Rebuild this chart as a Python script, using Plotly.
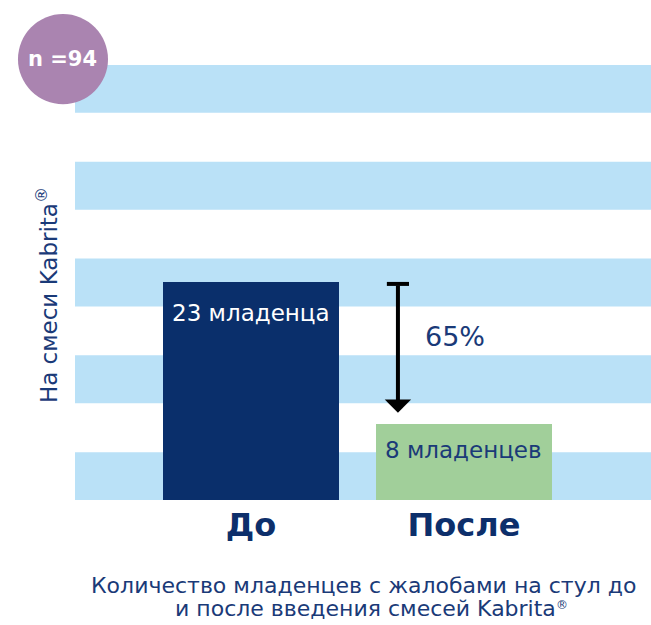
import plotly.graph_objects as go

categories = ["До", "После"]
values = [23, 8]
bar_labels = ["23 младенца", "8 младенцев"]
bar_colors = ["#0a2f6b", "#a1cf9a"]
label_colors = ["#ffffff", "#1a3a78"]
reduction_label = "65%"
n_label = "n =94"
y_title = "На смеси Kabrita<sup>®</sup>"
caption_lines = ["Количество младенцев с жалобами на стул до",
                 "и после введения смесей Kabrita"]
caption_mark = "®"

NAVY = "#1a3a78"
FONT = "DejaVu Sans"
x_pos = list(range(len(categories)))

fig = go.Figure()
fig.add_trace(go.Bar(x=x_pos, y=values, width=0.826,
                     marker=dict(color=bar_colors, line=dict(width=0)),
                     hoverinfo="skip"))

# background stripes
for i in range(5):
    y0 = i * 0.2225
    fig.add_shape(type="rect", xref="paper", yref="y domain",
                  x0=0, x1=1, y0=y0, y1=y0 + 0.11,
                  fillcolor="#bae1f7", line=dict(width=0), layer="below")

# bar labels
shifts = [-31, -26]
for xi, v, t, c, s in zip(x_pos, values, bar_labels, label_colors, shifts):
    fig.add_annotation(x=xi, y=v, text=t, showarrow=False, yshift=s,
                       xanchor="center", yanchor="middle",
                       font=dict(family=FONT, size=23, color=c))

# arrow from before to after
ax_x = 0.69
fig.add_annotation(x=ax_x, y=values[1] + 1.2, ax=ax_x, ay=values[0] - 0.2,
                   xref="x", yref="y", axref="x", ayref="y",
                   showarrow=True, arrowhead=1, arrowwidth=4, arrowsize=1.1,
                   arrowcolor="#000000", text="")
fig.add_shape(type="line", xref="x", yref="y", x0=ax_x - 0.052, x1=ax_x + 0.052,
              y0=values[0] - 0.2, y1=values[0] - 0.2,
              line=dict(color="#000000", width=4))
fig.add_annotation(x=0.958, y=17.3, text=reduction_label, showarrow=False,
                   xanchor="center", yanchor="middle",
                   font=dict(family=FONT, size=27, color=NAVY))

# n circle
fig.add_shape(type="circle", xref="paper", yref="paper",
              x0=-0.099, x1=0.0573, y0=0.910, y1=1.117,
              fillcolor="#aa84b0", line=dict(width=0))
fig.add_annotation(xref="paper", yref="paper", x=(-0.099 + 0.0573) / 2, y=1.0135,
                   text="<b>" + n_label + "</b>", showarrow=False,
                   xanchor="center", yanchor="middle",
                   font=dict(family=FONT, size=21, color="#ffffff"))

# y title
fig.add_annotation(xref="paper", yref="paper", x=-0.0486, y=0.471, textangle=-90,
                   text=y_title, showarrow=False, xanchor="center", yanchor="middle",
                   font=dict(family=FONT, size=23, color=NAVY))

# caption
for xx, yy, line in zip([0.5, 0.5035], [-0.197, -0.250], caption_lines):
    fig.add_annotation(xref="paper", yref="paper", x=xx, y=yy, text=line,
                       showarrow=False, xanchor="center", yanchor="middle",
                       font=dict(family=FONT, size=22, color=NAVY))
fig.add_annotation(xref="paper", yref="paper", x=0.8316, y=-0.2414, text=caption_mark,
                   showarrow=False, xanchor="left", yanchor="middle",
                   font=dict(family=FONT, size=12, color=NAVY))

fig.update_layout(
    width=651, height=625,
    margin=dict(l=75, r=0, t=65, b=125),
    paper_bgcolor="#ffffff", plot_bgcolor="#ffffff",
    showlegend=False,
    bargap=0,
    xaxis=dict(range=[-0.826, 1.878], tickvals=x_pos,
               ticktext=["<b>" + c + "</b>" for c in categories],
               tickfont=dict(family=FONT, size=32, color="#0d2f6b"),
               ticklabelstandoff=3,
               showgrid=False, zeroline=False, showline=False, fixedrange=True),
    yaxis=dict(range=[0, 45.9], showticklabels=False, showgrid=False,
               zeroline=False, showline=False, fixedrange=True),
)

fig.write_html("out.html", config={"displayModeBar": False},
               post_script="document.body.style.margin='0';")
